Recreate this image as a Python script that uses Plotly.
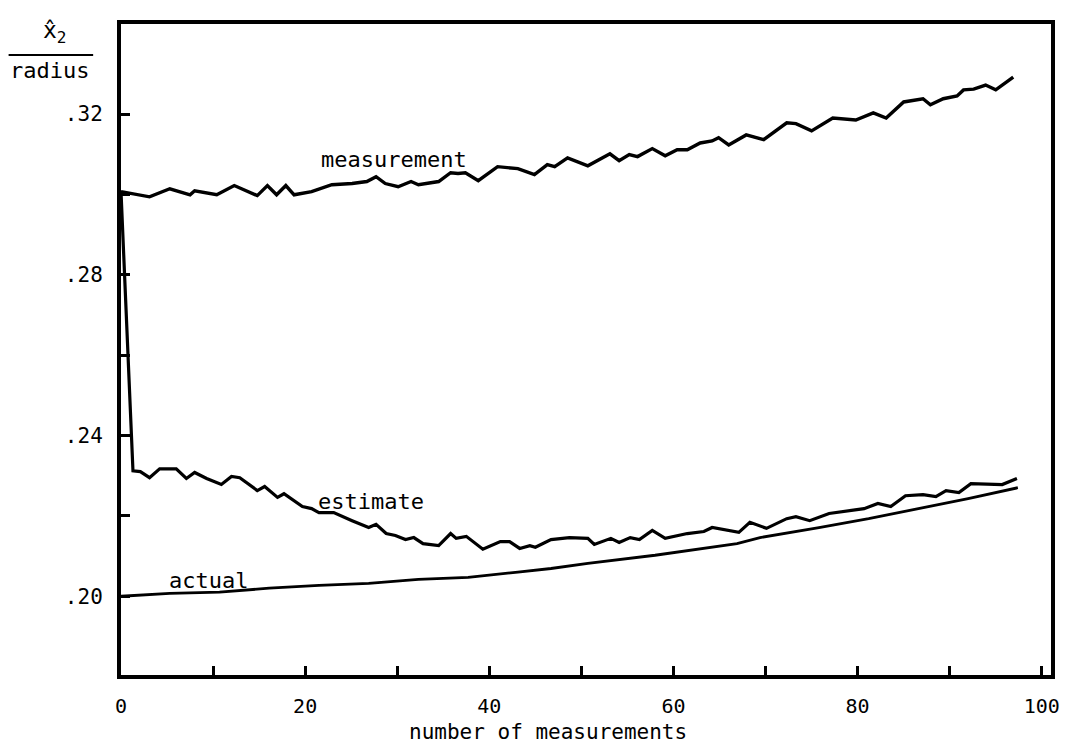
import plotly.graph_objects as go

# ---- data ----
meas_x = [0, 3.1, 5.3, 7.5, 8.0, 10.4, 12.3, 14.8, 15.9, 16.9, 17.9, 18.8, 20.7, 22.9, 25.1,
          26.7, 27.7, 28.7, 30.1, 31.5, 32.3, 34.5, 35.8, 36.6, 37.4, 38.8, 40.9, 43.1, 44.9,
          46.3, 47.1, 48.5, 50.7, 53.1, 54.1, 55.2, 56.1, 57.7, 59.1, 60.4, 61.5, 62.9, 64.2,
          64.9, 66.0, 67.9, 69.8, 72.3, 73.3, 75.0, 77.3, 79.8, 81.7, 83.1, 85.0, 87.1, 87.9,
          89.3, 90.8, 91.5, 92.6, 93.9, 95.0, 96.9]
meas_y = [0.3007, 0.2994, 0.3014, 0.2999, 0.3009, 0.2999, 0.3022, 0.2997, 0.3022, 0.2999,
          0.3022, 0.2999, 0.3007, 0.3024, 0.3027, 0.3032, 0.3044, 0.3027, 0.3019, 0.3032,
          0.3024, 0.3032, 0.3054, 0.3052, 0.3054, 0.3034, 0.3069, 0.3064, 0.3049, 0.3074,
          0.3069, 0.3091, 0.3071, 0.3101, 0.3084, 0.3099, 0.3094, 0.3114, 0.3096, 0.3111,
          0.3111, 0.3128, 0.3133, 0.3141, 0.3123, 0.3148, 0.3136, 0.3178, 0.3176, 0.3158,
          0.3190, 0.3185, 0.3203, 0.3190, 0.3230, 0.3238, 0.3223, 0.3238, 0.3245, 0.3260,
          0.3262, 0.3272, 0.3260, 0.3292]

est_x = [0, 1.3, 2.1, 3.1, 4.2, 6.0, 7.1, 8.0, 9.3, 10.9, 12.0, 12.9, 14.8, 15.6, 17.0, 17.7,
         19.7, 20.7, 21.5, 23.1, 25.1, 26.9, 27.7, 28.8, 29.8, 30.9, 31.8, 32.8, 34.5, 35.8,
         36.4, 37.5, 39.3, 41.2, 42.2, 43.3, 44.4, 45.0, 46.7, 48.7, 50.7, 51.4, 53.2, 54.1,
         55.3, 56.3, 57.7, 59.1, 61.5, 63.3, 64.2, 67.1, 68.3, 70.1, 72.3, 73.3, 74.8, 76.9,
         80.7, 82.2, 83.6, 85.2, 87.1, 88.5, 89.6, 91.0, 92.3, 93.6, 95.7, 97.3]
est_y = [0.3007, 0.2312, 0.2310, 0.2295, 0.2317, 0.2317, 0.2293, 0.2308, 0.2293, 0.2278,
         0.2298, 0.2295, 0.2263, 0.2273, 0.2246, 0.2255, 0.2223, 0.2218, 0.2208, 0.2208,
         0.2188, 0.2171, 0.2179, 0.2156, 0.2151, 0.2141, 0.2146, 0.2131, 0.2126, 0.2156,
         0.2144, 0.2149, 0.2117, 0.2136, 0.2136, 0.2119, 0.2126, 0.2122, 0.2141, 0.2146,
         0.2144, 0.2129, 0.2144, 0.2134, 0.2146, 0.2141, 0.2164, 0.2144, 0.2156, 0.2161,
         0.2171, 0.2159, 0.2184, 0.2169, 0.2193, 0.2198, 0.2188, 0.2206, 0.2218, 0.2231,
         0.2223, 0.2250, 0.2253, 0.2248, 0.2263, 0.2258, 0.2280, 0.2280, 0.2278, 0.2293]

act_x = [0, 5.3, 10.7, 16.1, 21.5, 26.9, 32.3, 37.7, 43.1, 46.7, 50.7, 58.0, 66.9, 69.4,
         75.8, 81.2, 86.6, 92.0, 97.4]
act_y = [0.2000, 0.2007, 0.2010, 0.2020, 0.2027, 0.2032, 0.2042, 0.2047, 0.2060, 0.2069,
         0.2082, 0.2102, 0.2131, 0.2146, 0.2171, 0.2193, 0.2218, 0.2243, 0.2270]

x_tickvals = [0, 20, 40, 60, 80, 100]
x_ticktext = ["0", "20", "40", "60", "80", "100"]
x_minorvals = [10, 30, 50, 70, 90]
y_tickvals = [0.20, 0.24, 0.28, 0.32]
y_ticktext = [".20", ".24", ".28", ".32"]
y_minorvals = [0.22, 0.26, 0.30]

FONT = "DejaVu Sans Mono"
OFF = 8                      # browser's default body margin
W, H = 1072 - OFF, 753 - OFF
L, T = 121 - OFF, 22 - OFF   # plot area starts at page px (121, 22)
PW, PH = 935, 653            # plot area size
R, B = W - L - PW, H - T - PH

fig = go.Figure()
fig.add_trace(go.Scatter(x=meas_x, y=meas_y, mode="lines",
                         line=dict(color="black", width=3.4), showlegend=False))
fig.add_trace(go.Scatter(x=est_x, y=est_y, mode="lines",
                         line=dict(color="black", width=3.2), showlegend=False))
fig.add_trace(go.Scatter(x=act_x, y=act_y, mode="lines",
                         line=dict(color="black", width=2.8), showlegend=False))

fig.update_layout(
    width=W, height=H,
    margin=dict(l=L, r=R, t=T, b=B, pad=0),
    paper_bgcolor="white", plot_bgcolor="white",
    font=dict(family=FONT, size=21, color="black"),
    xaxis=dict(range=[0, 101], tickmode="array", tickvals=x_tickvals, ticktext=x_ticktext,
               ticks="inside", ticklen=9, tickwidth=3, tickcolor="black",
               minor=dict(tickmode="array", tickvals=x_minorvals, ticks="inside",
                          ticklen=9, tickwidth=3, tickcolor="black", showgrid=False),
               showline=True, linewidth=4, linecolor="black", mirror=True,
               showgrid=False, zeroline=False, ticklabelstandoff=10,
               tickfont=dict(family=FONT, size=20)),
    yaxis=dict(range=[0.1804, 0.3424], tickmode="array", tickvals=y_tickvals,
               ticktext=y_ticktext,
               ticks="inside", ticklen=9, tickwidth=3, tickcolor="black",
               minor=dict(tickmode="array", tickvals=y_minorvals, ticks="inside",
                          ticklen=9, tickwidth=3, tickcolor="black", showgrid=False),
               showline=True, linewidth=4, linecolor="black", mirror=True,
               showgrid=False, zeroline=False, ticklabelstandoff=10,
               tickfont=dict(family=FONT, size=21)),
)

annos = [
    dict(text="measurement", x=29.7, y=0.3088),
    dict(text="estimate", x=27.1, y=0.2237),
    dict(text="actual", x=9.5, y=0.2040),
]
for a in annos:
    fig.add_annotation(text=a["text"], x=a["x"], y=a["y"], xref="x", yref="y",
                       showarrow=False, xanchor="center", yanchor="middle",
                       font=dict(family=FONT, size=22, color="black"))

# x-axis title
fig.add_annotation(text="number of measurements", xref="paper", yref="paper",
                   x=(550 - 121) / PW, y=0, yshift=-57, showarrow=False,
                   xanchor="center", yanchor="middle",
                   font=dict(family=FONT, size=21, color="black"))

# y-axis title drawn as a fraction
fig.add_annotation(text="x\u0302<sub>2</sub>", xref="paper", yref="paper",
                   x=0, y=1, xshift=55 - 121, yshift=-8, showarrow=False,
                   xanchor="center", yanchor="middle",
                   font=dict(family=FONT, size=23, color="black"))
fig.add_annotation(text="radius", xref="paper", yref="paper",
                   x=0, y=1, xshift=49 - 121, yshift=-(68 - 22), showarrow=False,
                   xanchor="center", yanchor="middle",
                   font=dict(family=FONT, size=22, color="black"))
fig.add_shape(type="line", xref="paper", yref="paper",
              x0=(8 - 121) / PW, x1=(93 - 121) / PW,
              y0=(675 - 53) / PH, y1=(675 - 53) / PH,
              line=dict(color="black", width=2))

fig.write_html("out.html")
